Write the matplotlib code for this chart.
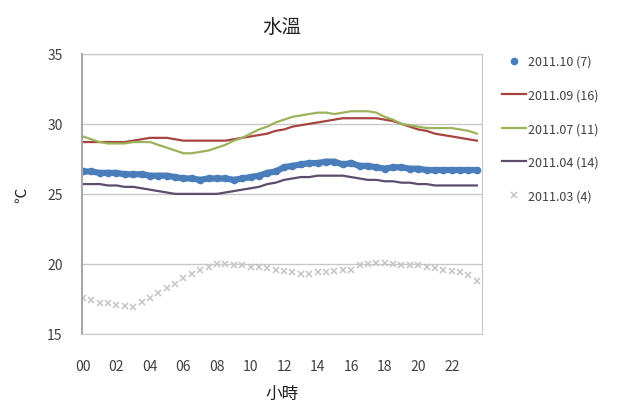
import matplotlib
matplotlib.use("Agg")
import matplotlib.pyplot as plt
import numpy as np

plt.rcParams['font.family'] = ['Noto Sans CJK TC', 'DejaVu Sans']

# half-hourly readings, 00:00 .. 23:30
hours = np.arange(48) * 0.5

oct_2011 = [26.6, 26.6, 26.5, 26.5, 26.5, 26.4, 26.4, 26.4, 26.3, 26.3, 26.3, 26.2,
            26.1, 26.1, 26.0, 26.1, 26.1, 26.1, 26.0, 26.1, 26.2, 26.3, 26.5, 26.6,
            26.9, 27.0, 27.1, 27.2, 27.2, 27.3, 27.3, 27.1, 27.2, 27.0, 27.0, 26.9,
            26.8, 26.9, 26.9, 26.8, 26.8, 26.7, 26.7, 26.7, 26.7, 26.7, 26.7, 26.7]
sep_2011 = [28.7, 28.7, 28.7, 28.7, 28.7, 28.7, 28.8, 28.9, 29.0, 29.0, 29.0, 28.9,
            28.8, 28.8, 28.8, 28.8, 28.8, 28.8, 28.9, 29.0, 29.1, 29.2, 29.3, 29.5,
            29.6, 29.8, 29.9, 30.0, 30.1, 30.2, 30.3, 30.4, 30.4, 30.4, 30.4, 30.4,
            30.3, 30.2, 30.0, 29.8, 29.6, 29.5, 29.3, 29.2, 29.1, 29.0, 28.9, 28.8]
jul_2011 = [29.1, 28.9, 28.7, 28.6, 28.6, 28.6, 28.7, 28.7, 28.7, 28.5, 28.3, 28.1,
            27.9, 27.9, 28.0, 28.1, 28.3, 28.5, 28.8, 29.0, 29.3, 29.6, 29.8, 30.1,
            30.3, 30.5, 30.6, 30.7, 30.8, 30.8, 30.7, 30.8, 30.9, 30.9, 30.9, 30.8,
            30.5, 30.3, 30.0, 29.9, 29.8, 29.7, 29.7, 29.7, 29.7, 29.6, 29.5, 29.3]
apr_2011 = [25.7, 25.7, 25.7, 25.6, 25.6, 25.5, 25.5, 25.4, 25.3, 25.2, 25.1, 25.0,
            25.0, 25.0, 25.0, 25.0, 25.0, 25.1, 25.2, 25.3, 25.4, 25.5, 25.7, 25.8,
            26.0, 26.1, 26.2, 26.2, 26.3, 26.3, 26.3, 26.3, 26.2, 26.1, 26.0, 26.0,
            25.9, 25.9, 25.8, 25.8, 25.7, 25.7, 25.6, 25.6, 25.6, 25.6, 25.6, 25.6]
mar_2011 = [17.6, 17.4, 17.2, 17.2, 17.1, 17.0, 16.9, 17.3, 17.6, 17.9, 18.3, 18.6,
            19.0, 19.3, 19.6, 19.8, 20.0, 20.0, 19.9, 19.9, 19.8, 19.8, 19.7, 19.6,
            19.5, 19.4, 19.3, 19.3, 19.4, 19.4, 19.5, 19.6, 19.6, 19.9, 20.0, 20.1,
            20.1, 20.0, 19.9, 19.9, 19.9, 19.8, 19.7, 19.6, 19.5, 19.4, 19.2, 18.8]

labels = ['2011.10 (7)', '2011.09 (16)', '2011.07 (11)', '2011.04 (14)', '2011.03 (4)']
xticks = ['00', '02', '04', '06', '08', '10', '12', '14', '16', '18', '20', '22']

fig = plt.figure(figsize=(6.17, 4.06), dpi=100)
ax = fig.add_axes([0.133, 0.175, 0.648, 0.69])

# the October series is a thick band of dots; the connecting line carries no label
ax.plot(hours, oct_2011, color='#4a7ebb', lw=4.5, solid_capstyle='round')
ax.plot(hours, oct_2011, color='#4a7ebb', lw=0, marker='o', ms=4.5, label=labels[0])
ax.plot(hours, sep_2011, color='#a8443f', lw=1.6, label=labels[1])
ax.plot(hours, jul_2011, color='#9bb35a', lw=1.6, label=labels[2])
ax.plot(hours, apr_2011, color='#5b4d6b', lw=1.6, label=labels[3])
ax.plot(hours, mar_2011, color='#c4c4c4', lw=0, marker='x', ms=4, mew=1.1, label=labels[4])

ax.set_xlim(-0.05, 23.8)
ax.set_ylim(15, 35)
ax.set_yticks([15, 20, 25, 30, 35])
ax.set_xticks(np.arange(0, 24, 2))
ax.set_xticklabels(xticks)
ax.yaxis.grid(True, color='#c8c8c8', lw=1)
ax.set_axisbelow(True)
ax.tick_params(axis='y', length=0, labelsize=10, labelcolor='#404040', pad=14)
ax.tick_params(axis='x', length=0, labelsize=10, labelcolor='#404040', pad=18)
for side in ['left', 'right', 'bottom', 'top']:
    ax.spines[side].set_color('#c8c8c8')
ax.spines['left'].set_color('#a8a8a8')
ax.spines['left'].set_linewidth(1.5)

ax.set_title('水溫', fontsize=14, pad=16, color='#202020')
ax.set_xlabel('小時', fontsize=12, labelpad=9, color='#202020')
fig.text(0.035, 0.52, '℃', rotation=90, fontsize=11, ha='center', va='center', color='#202020')

fig.legend(loc='upper left', bbox_to_anchor=(0.795, 0.89), frameon=False,
           fontsize=9, labelspacing=1.65, handlelength=1.9, handletextpad=0.2,
           labelcolor='#404040')

fig.savefig('out.png', dpi=100)
